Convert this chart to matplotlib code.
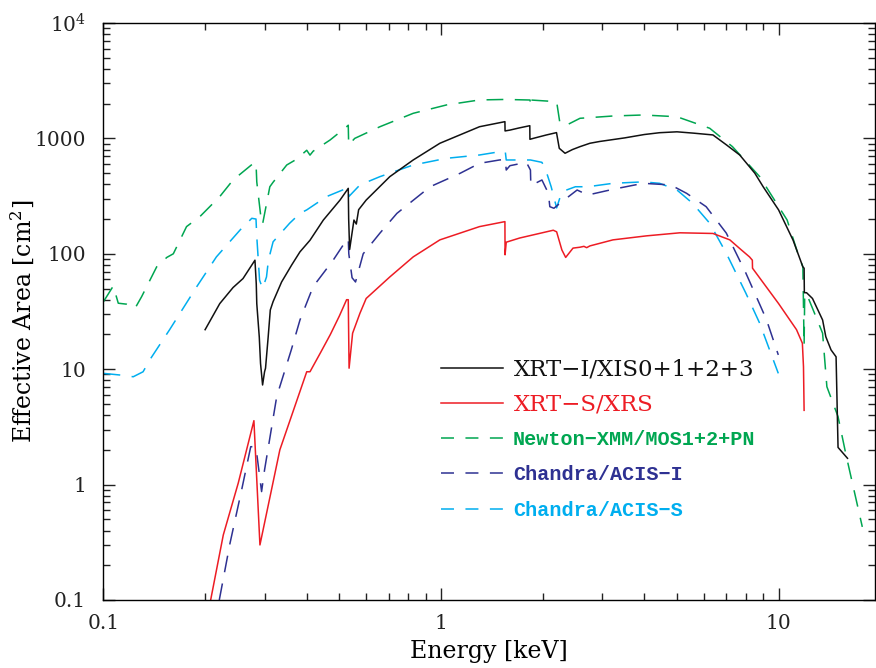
import matplotlib
matplotlib.use("Agg")
import matplotlib.pyplot as plt
from matplotlib.lines import Line2D
from matplotlib.ticker import FixedLocator, FixedFormatter, LogLocator, NullFormatter
from matplotlib.font_manager import FontProperties

plt.rcParams['font.family'] = 'DejaVu Serif'
plt.rcParams['mathtext.fontset'] = 'dejavuserif'

# ---- effective-area curves: energy [keV] and area [cm^2] ----
e_xis = [0.200, 0.221, 0.242, 0.259, 0.281, 0.2835, 0.2845, 0.2894, 0.2919, 0.296,
         0.300, 0.302, 0.3075, 0.312, 0.318, 0.337, 0.361, 0.382, 0.409, 0.448,
         0.502, 0.531, 0.5325, 0.536, 0.552, 0.561, 0.570, 0.600, 0.705, 0.827,
         0.992, 1.30, 1.546, 1.5475, 1.60, 1.70, 1.832, 1.8335, 1.90, 2.05,
         2.198, 2.24, 2.33, 2.45, 2.58, 2.76, 2.95, 3.5, 4.0, 4.44,
         5.0, 5.6, 6.39, 7.0, 7.67, 8.5, 9.0, 10.0, 11.04, 11.8,
         11.9, 11.92, 12.1, 12.6, 13.5, 13.8, 14.3, 14.8, 15.0, 16.0]
a_xis = [22, 37, 51, 61, 88, 55, 37, 19, 11.2, 7.3,
         9.5, 10.2, 19, 32.6, 38.5, 57, 80, 104, 131, 196,
         292, 369, 200, 109, 196, 181, 241, 292, 466, 650,
         907, 1262, 1396, 1160, 1180, 1230, 1288, 982, 1010, 1070,
         1122, 820, 743, 800, 848, 907, 940, 1010, 1080, 1120,
         1140, 1110, 1071, 880, 718, 500, 381, 240, 131, 77,
         75, 46, 46, 41, 26.7, 19.1, 14.7, 12.8, 2.1, 1.69]

e_xrs = [0.207, 0.2264, 0.2507, 0.279, 0.2907, 0.333, 0.400, 0.409, 0.44, 0.47,
         0.50, 0.525, 0.531, 0.534, 0.547, 0.575, 0.60, 0.705, 0.827, 0.992,
         1.30, 1.546, 1.5475, 1.56, 1.71, 2.15, 2.20, 2.28, 2.34, 2.46,
         2.58, 2.65, 2.70, 2.76, 3.23, 4.06, 5.1, 6.39, 7.17, 7.7,
         8.2, 8.36, 8.37, 10.0, 11.3, 11.76, 11.85, 11.9]
a_xrs = [0.095, 0.366, 1.03, 3.58, 0.30, 2.0, 9.5, 9.5, 14, 20,
         29, 40, 40, 10.2, 20.5, 30.5, 41, 63, 94, 132,
         172, 190, 98, 126, 137, 160, 155, 108, 93, 112,
         114, 116, 113, 117, 132, 143, 152, 150, 132, 110,
         94, 88, 75, 37, 22, 16.8, 10.5, 4.4]

e_xmm = [0.100, 0.1069, 0.1106, 0.117, 0.124, 0.1297, 0.1437, 0.154, 0.161, 0.1762,
         0.193, 0.221, 0.242, 0.278, 0.283, 0.2845, 0.294, 0.296, 0.311, 0.318,
         0.349, 0.373, 0.400, 0.409, 0.418, 0.469, 0.525, 0.531, 0.5325, 0.555,
         0.659, 0.827, 1.038, 1.30, 1.55, 1.835, 1.84, 1.845, 2.20, 2.25,
         2.35, 2.58, 3.23, 3.97, 5.0, 6.25, 7.3, 8.79, 10.6, 11.4,
         11.8, 11.9, 11.95, 12.2, 12.9, 13.5, 13.9, 15.0, 15.8, 17.7]
a_xmm = [38.5, 52.6, 37.3, 36.6, 33.7, 42.5, 77, 93, 100, 172,
         210, 313, 436, 608, 615, 420, 184, 181, 381, 417,
         588, 659, 789, 716, 775, 968, 1262, 1300, 877, 1000,
         1262, 1649, 1949, 2153, 2175, 2150, 1900, 2150, 2080, 1352,
         1300, 1493, 1563, 1595, 1540, 1224, 848, 466, 196, 101,
         77, 16, 45, 42.5, 28.5, 20.5, 7.05, 3.88, 1.87, 0.43]

e_acis_i = [0.2203, 0.237, 0.2566, 0.273, 0.281, 0.2835, 0.294, 0.300, 0.326, 0.36,
            0.382, 0.418, 0.479, 0.525, 0.531, 0.533, 0.545, 0.558, 0.588, 0.659,
            0.74, 0.928, 1.14, 1.30, 1.49, 1.55, 1.56, 1.60, 1.79, 1.84,
            1.845, 1.99, 2.08, 2.10, 2.16, 2.25, 2.53, 2.72, 3.23, 3.97,
            4.79, 5.34, 6.1, 7.0, 8.0, 9.2, 9.98]
a_acis_i = [0.10, 0.31, 0.90, 2.13, 2.13, 2.0, 0.87, 1.34, 5.8, 14.7,
            26.7, 52, 88, 132, 135, 100, 62, 57, 100, 151,
            224, 381, 499, 608, 650, 655, 532, 580, 620, 532,
            390, 436, 334, 256, 248, 274, 357, 323, 362, 408,
            395, 334, 256, 151, 68, 27, 13.3]

e_acis_s = [0.100, 0.112, 0.1225, 0.131, 0.137, 0.157, 0.189, 0.216, 0.254, 0.275,
            0.283, 0.2845, 0.290, 0.296, 0.304, 0.308, 0.318, 0.356, 0.382, 0.40,
            0.458, 0.525, 0.531, 0.533, 0.575, 0.659, 0.827, 1.038, 1.30, 1.49,
            1.55, 1.56, 1.69, 1.84, 1.99, 2.05, 2.12, 2.20, 2.28, 2.5,
            2.72, 3.23, 3.97, 4.44, 5.0, 5.56, 6.25, 7.0, 8.0, 8.79, 9.98]
a_acis_s = [9.2, 8.9, 8.6, 9.5, 12, 22, 52, 94, 161, 203,
            200, 141, 59, 50, 63, 88, 127, 184, 224, 240,
            313, 369, 372, 313, 395, 466, 588, 672, 718, 766,
            766, 650, 650, 650, 620, 515, 380, 250, 345, 381,
            381, 408, 420, 408, 357, 274, 184, 101, 45.5, 25, 9.2]

labels = ["XRT\u2212I/XIS0+1+2+3", "XRT\u2212S/XRS", "Newton\u2212XMM/MOS1+2+PN",
          "Chandra/ACIS\u2212I", "Chandra/ACIS\u2212S"]

y_ticks = [0.1, 1, 10, 100, 1000, 1e4]
y_ticklabels = ["0.1", "1", "10", "100", "1000", "$10^4$"]
x_ticks = [0.1, 1, 10]
x_ticklabels = ["0.1", "1", "10"]

BLACK = "#111111"
RED = "#ed1c24"
GREEN = "#00a651"
NAVY = "#2e3192"
CYAN = "#00aeef"

fig = plt.figure(figsize=(8.76, 6.68), dpi=100)
ax = fig.add_axes([0.11815, 0.1018, 0.8807, 0.8638])
ax.set_xscale('log')
ax.set_yscale('log')
ax.set_xlim(0.1, 19.3)
ax.set_ylim(0.1, 1e4)

lw = 1.1
plot_dash = (11, 7.5)
ax.plot(e_xmm, a_xmm, color=GREEN, lw=lw, dashes=plot_dash)
ax.plot(e_acis_s, a_acis_s, color=CYAN, lw=lw, dashes=plot_dash)
ax.plot(e_acis_i, a_acis_i, color=NAVY, lw=lw, dashes=plot_dash)
ax.plot(e_xrs, a_xrs, color=RED, lw=lw)
ax.plot(e_xis, a_xis, color=BLACK, lw=lw)

# axes, ticks on all four sides pointing inwards
for s in ax.spines.values():
    s.set_linewidth(1.0)
ax.xaxis.set_major_locator(FixedLocator(x_ticks))
ax.xaxis.set_major_formatter(FixedFormatter(x_ticklabels))
ax.yaxis.set_major_locator(FixedLocator(y_ticks))
ax.yaxis.set_major_formatter(FixedFormatter(y_ticklabels))
ax.xaxis.set_minor_locator(LogLocator(base=10, subs=range(2, 10), numticks=20))
ax.yaxis.set_minor_locator(LogLocator(base=10, subs=range(2, 10), numticks=20))
ax.xaxis.set_minor_formatter(NullFormatter())
ax.yaxis.set_minor_formatter(NullFormatter())
ax.tick_params(which='both', direction='in', top=True, right=True, width=1.0, colors='#222222')
ax.tick_params(which='major', length=8.5)
ax.tick_params(which='minor', length=5)
ax.tick_params(axis='x', which='major', pad=10, labelsize=14.5)
ax.tick_params(axis='y', which='major', pad=12.5, labelsize=14.5)

ax.set_xlabel("Energy [keV]", fontsize=17)
ax.set_ylabel("Effective Area [cm$^2$]", fontsize=17)
ax.xaxis.set_label_coords(0.5, -0.069)
ax.yaxis.set_label_coords(-0.086, 0.483)

# legend: solid XRT entries in a roman face, comparison missions in a typewriter face
h_top = [Line2D([], [], color=BLACK, lw=lw), Line2D([], [], color=RED, lw=lw)]
leg1 = ax.legend(h_top, labels[:2], loc='upper left', bbox_to_anchor=(0.4375, 0.4177),
                 frameon=False, borderpad=0, borderaxespad=0, handlelength=2.72,
                 handletextpad=0.44, labelspacing=0.55,
                 prop=FontProperties(family='DejaVu Serif', size=16.5))
for t, c in zip(leg1.get_texts(), [BLACK, RED]):
    t.set_color(c)
ax.add_artist(leg1)

leg_dash = (8.5, 7.5)
h_bot = [Line2D([], [], color=c, lw=lw, dashes=leg_dash) for c in (GREEN, NAVY, CYAN)]
leg2 = ax.legend(h_bot, labels[2:], loc='upper left', bbox_to_anchor=(0.4375, 0.2953),
                 frameon=False, borderpad=0, borderaxespad=0, handlelength=3.08,
                 handletextpad=0.5, labelspacing=0.83,
                 prop=FontProperties(family='Liberation Mono', weight='bold', size=14.5))
for t, c in zip(leg2.get_texts(), [GREEN, NAVY, CYAN]):
    t.set_color(c)

fig.savefig("out.png", dpi=100)
